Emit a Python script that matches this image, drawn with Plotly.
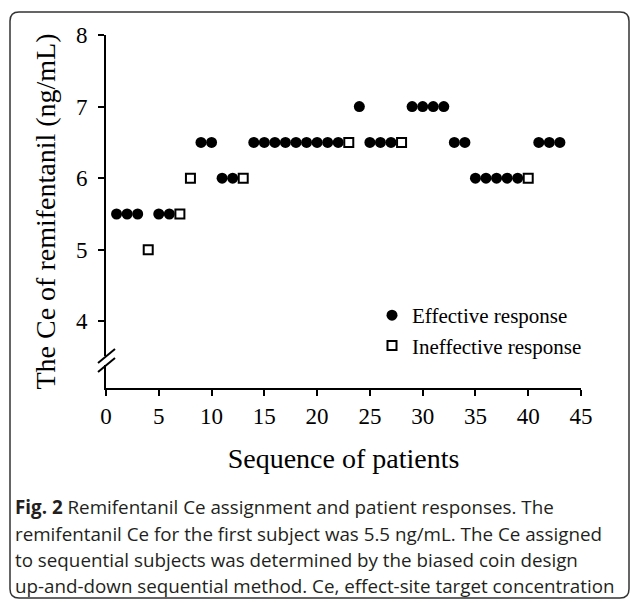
import plotly.graph_objects as go

# ---- data ----
patients = list(range(1, 44))
ce_values = [5.5, 5.5, 5.5, 5.0, 5.5, 5.5, 5.5, 6.0, 6.5, 6.5,
             6.0, 6.0, 6.0, 6.5, 6.5, 6.5, 6.5, 6.5, 6.5, 6.5,
             6.5, 6.5, 6.5, 7.0, 6.5, 6.5, 6.5, 6.5, 7.0, 7.0,
             7.0, 7.0, 6.5, 6.5, 6.0, 6.0, 6.0, 6.0, 6.0, 6.0,
             6.5, 6.5, 6.5]
responses = ["E", "E", "E", "I", "E", "E", "I", "I", "E", "E",
             "E", "E", "I", "E", "E", "E", "E", "E", "E", "E",
             "E", "E", "I", "E", "E", "E", "E", "I", "E", "E",
             "E", "E", "E", "E", "E", "E", "E", "E", "E", "I",
             "E", "E", "E"]
x_ticks = [0, 5, 10, 15, 20, 25, 30, 35, 40, 45]
y_ticks = [4, 5, 6, 7, 8]
series_names = {"E": "Effective response", "I": "Ineffective response"}
x_title = "Sequence of patients"
y_title = "The Ce of remifentanil (ng/mL)"
caption_lines = [
    "<b>Fig. 2</b> Remifentanil Ce assignment and patient responses. The",
    "remifentanil Ce for the first subject was 5.5 ng/mL. The Ce assigned",
    "to sequential subjects was determined by the biased coin design",
    "up-and-down sequential method. Ce, effect-site target concentration",
]

# ---- layout geometry ----
W, H = 630, 603
ML, MR, MT, MB = 106, 49, 35, 215
PW, PH = W - ML - MR, H - MT - MB


def px(x):
    return (x - ML) / PW


def py(y):
    return (H - MB - y) / PH


SERIF = "Liberation Serif, Times New Roman, serif"

fig = go.Figure()
eff_x = [p for p, r in zip(patients, responses) if r == "E"]
eff_y = [v for v, r in zip(ce_values, responses) if r == "E"]
ine_x = [p for p, r in zip(patients, responses) if r == "I"]
ine_y = [v for v, r in zip(ce_values, responses) if r == "I"]

fig.add_trace(go.Scatter(
    x=eff_x, y=eff_y, mode="markers", name=series_names["E"],
    marker=dict(symbol="circle", size=11, color="black"),
))
fig.add_trace(go.Scatter(
    x=ine_x, y=ine_y, mode="markers", name=series_names["I"],
    marker=dict(symbol="square-open", size=9, color="black",
                line=dict(width=2, color="black")),
))

fig.update_xaxes(
    range=[0, 45], tickvals=x_ticks, showgrid=False, zeroline=False,
    showline=True, linecolor="black", linewidth=2,
    ticks="outside", ticklen=6, tickwidth=2, tickcolor="black",
    tickfont=dict(family=SERIF, size=23, color="black"),
    title=dict(text=x_title, font=dict(family=SERIF, size=28, color="black"),
               standoff=21),
)
fig.update_yaxes(
    range=[3.07, 8], tickvals=y_ticks, showgrid=False, zeroline=False,
    showline=True, linecolor="black", linewidth=2,
    ticks="outside", ticklen=6, tickwidth=2, tickcolor="black",
    ticklabelstandoff=6,
    tickfont=dict(family=SERIF, size=23, color="black"),
    title=dict(text=y_title, font=dict(family=SERIF, size=28, color="black"),
               standoff=12),
)

# axis break on the y axis
shapes = [
    dict(type="rect", xref="paper", yref="paper",
         x0=px(103), x1=px(110), y0=py(365), y1=py(356),
         fillcolor="white", line=dict(width=0), layer="above"),
    dict(type="line", xref="paper", yref="paper",
         x0=px(98), y0=py(363), x1=px(115), y1=py(349),
         line=dict(color="black", width=2), layer="above"),
    dict(type="line", xref="paper", yref="paper",
         x0=px(98), y0=py(372), x1=px(115), y1=py(358),
         line=dict(color="black", width=2), layer="above"),
]

# rounded frame around figure + caption
fx0, fy0, fx1, fy1, r = 10, 12, 629, 598, 9
path = (f"M {px(fx0 + r)} {py(fy0)} L {px(fx1 - r)} {py(fy0)} "
        f"Q {px(fx1)} {py(fy0)} {px(fx1)} {py(fy0 + r)} "
        f"L {px(fx1)} {py(fy1 - r)} "
        f"Q {px(fx1)} {py(fy1)} {px(fx1 - r)} {py(fy1)} "
        f"L {px(fx0 + r)} {py(fy1)} "
        f"Q {px(fx0)} {py(fy1)} {px(fx0)} {py(fy1 - r)} "
        f"L {px(fx0)} {py(fy0 + r)} "
        f"Q {px(fx0)} {py(fy0)} {px(fx0 + r)} {py(fy0)} Z")
shapes.append(dict(type="path", xref="paper", yref="paper", path=path,
                   line=dict(color="#333333", width=1.5), layer="above"))

annotations = []
baselines = [513, 539.5, 566, 592]
for line, base in zip(caption_lines, baselines):
    annotations.append(dict(
        text=line, xref="paper", yref="paper", x=px(13), y=py(base - 6),
        xanchor="left", yanchor="middle", showarrow=False,
        font=dict(family="Open Sans, sans-serif", size=18.8, color="#231f20"),
    ))

fig.update_layout(
    width=W, height=H,
    margin=dict(l=ML, r=MR, t=MT, b=MB, autoexpand=False),
    paper_bgcolor="white", plot_bgcolor="white",
    showlegend=True,
    legend=dict(x=px(372), y=py(295), xanchor="left", yanchor="top",
                font=dict(family=SERIF, size=21, color="black"),
                bgcolor="rgba(0,0,0,0)", itemclick=False),
    shapes=shapes, annotations=annotations,
)

fig.write_html(
    "out.html",
    config={"displayModeBar": False},
    post_script="document.body.style.margin='0';document.body.style.overflow='hidden';",
)
